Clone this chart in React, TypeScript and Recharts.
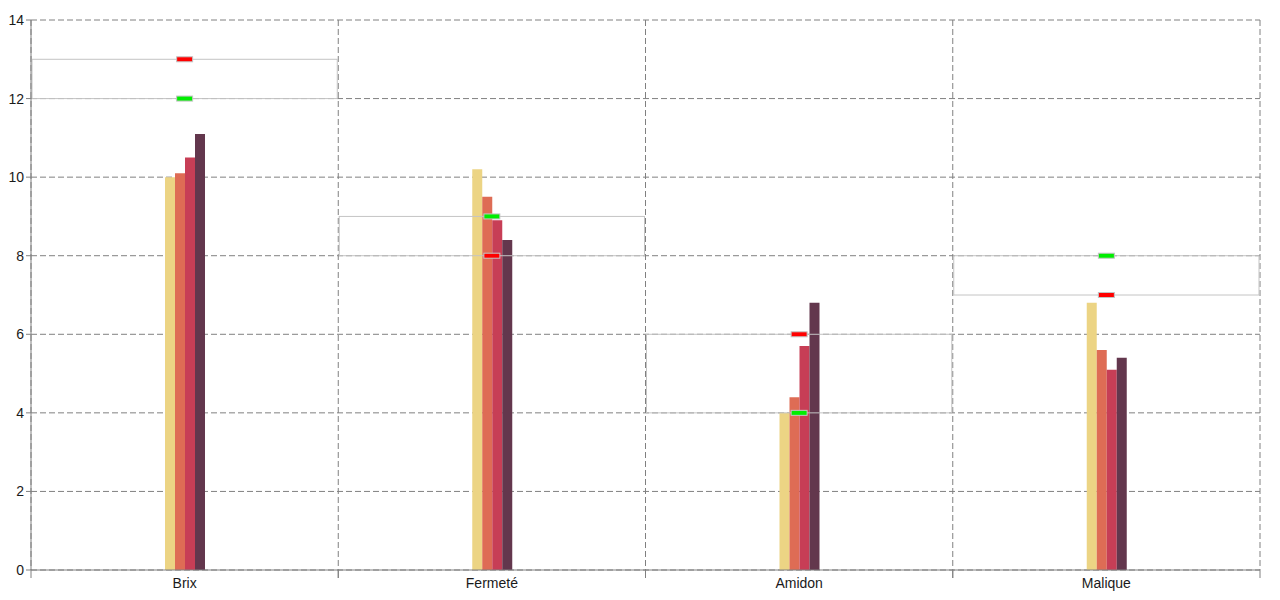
import React from 'react';
import {
  ComposedChart,
  Bar,
  Line,
  XAxis,
  YAxis,
  CartesianGrid,
  ReferenceArea,
} from 'recharts';

const categories = ['Brix', 'Fermeté', 'Amidon', 'Malique'];
const series1 = [10.0, 10.2, 4.0, 6.8];
const series2 = [10.1, 9.5, 4.4, 5.6];
const series3 = [10.5, 8.9, 5.7, 5.1];
const series4 = [11.1, 8.4, 6.8, 5.4];
const greenValues = [12, 9, 4, 8];
const redValues = [13, 8, 6, 7];
const yTicks = [0, 2, 4, 6, 8, 10, 12, 14];

const barColors = ['#ECD484', '#DE6C55', '#C73E56', '#63374D'];
const AXIS_COLOR = '#808080';
const FONT = '"Liberation Sans", Arial, sans-serif';

const data = categories.map((name, i) => ({
  name,
  s1: series1[i],
  s2: series2[i],
  s3: series3[i],
  s4: series4[i],
  green: greenValues[i],
  red: redValues[i],
}));

const TICK_SIZE = 8;
const TICK_MARGIN = 0;

const XTick = (props: any) => {
  const { x, y, payload } = props;
  const half = payload.offset || 0;
  const axisY = y - TICK_SIZE - TICK_MARGIN;
  return (
    <g>
      <line x1={x - half} x2={x - half} y1={axisY} y2={axisY + 8} stroke={AXIS_COLOR} />
      <line x1={x + half} x2={x + half} y1={axisY} y2={axisY + 8} stroke={AXIS_COLOR} />
      <text x={x} y={y} dy="0.71em" textAnchor="middle" fill="#1a1a1a" fontSize={14} fontFamily={FONT}>
        {payload.value}
      </text>
    </g>
  );
};

const makeMarker = (color: string) => (props: any) => {
  const { cx, cy } = props;
  if (cx == null || cy == null) return <g />;
  return (
    <rect x={cx - 8} y={cy - 2.5} width={16} height={5} fill={color} stroke="#c4c4c4" strokeWidth={1} />
  );
};

const BoxShape = (props: any) => {
  const { x, y, width, height } = props;
  return (
    <rect
      x={x + 1}
      y={y}
      width={Math.max(0, width - 2)}
      height={height}
      fill="none"
      stroke="#c4c4c4"
      strokeWidth={1}
    />
  );
};

export default function App() {
  return (
    <ComposedChart
      width={1264}
      height={590}
      data={data}
      margin={{ top: 12, right: 12, bottom: 0, left: 0 }}
      barGap={0}
    >
      <CartesianGrid
        stroke={AXIS_COLOR}
        strokeDasharray="6 3"
        verticalCoordinatesGenerator={({ offset }: any) =>
          [0, 1, 2, 3, 4].map((i) => offset.left + (i * offset.width) / categories.length)
        }
      />
      <XAxis
        dataKey="name"
        type="category"
        height={28}
        stroke={AXIS_COLOR}
        tickLine={false}
        tickSize={TICK_SIZE}
        tickMargin={TICK_MARGIN}
        tick={<XTick />}
        interval={0}
      />
      <YAxis
        width={23}
        domain={[0, 14]}
        ticks={yTicks}
        stroke={AXIS_COLOR}
        tickSize={5}
        tickMargin={2}
        tick={{ fill: '#1a1a1a', fontSize: 14, fontFamily: FONT }}
      />
      <Bar dataKey="s1" fill={barColors[0]} barSize={10} isAnimationActive={false} />
      <Bar dataKey="s2" fill={barColors[1]} barSize={10} isAnimationActive={false} />
      <Bar dataKey="s3" fill={barColors[2]} barSize={10} isAnimationActive={false} />
      <Bar dataKey="s4" fill={barColors[3]} barSize={10} isAnimationActive={false} />
      {categories.map((c, i) => (
        <ReferenceArea
          key={c}
          x1={c}
          x2={c}
          y1={Math.min(greenValues[i], redValues[i])}
          y2={Math.max(greenValues[i], redValues[i])}
          shape={<BoxShape />}
          zIndex={350}
          ifOverflow="visible"
        />
      ))}
      <Line
        dataKey="green"
        stroke="none"
        dot={makeMarker('#00ee00')}
        activeDot={false}
        isAnimationActive={false}
      />
      <Line
        dataKey="red"
        stroke="none"
        dot={makeMarker('#ff0000')}
        activeDot={false}
        isAnimationActive={false}
      />
    </ComposedChart>
  );
}
